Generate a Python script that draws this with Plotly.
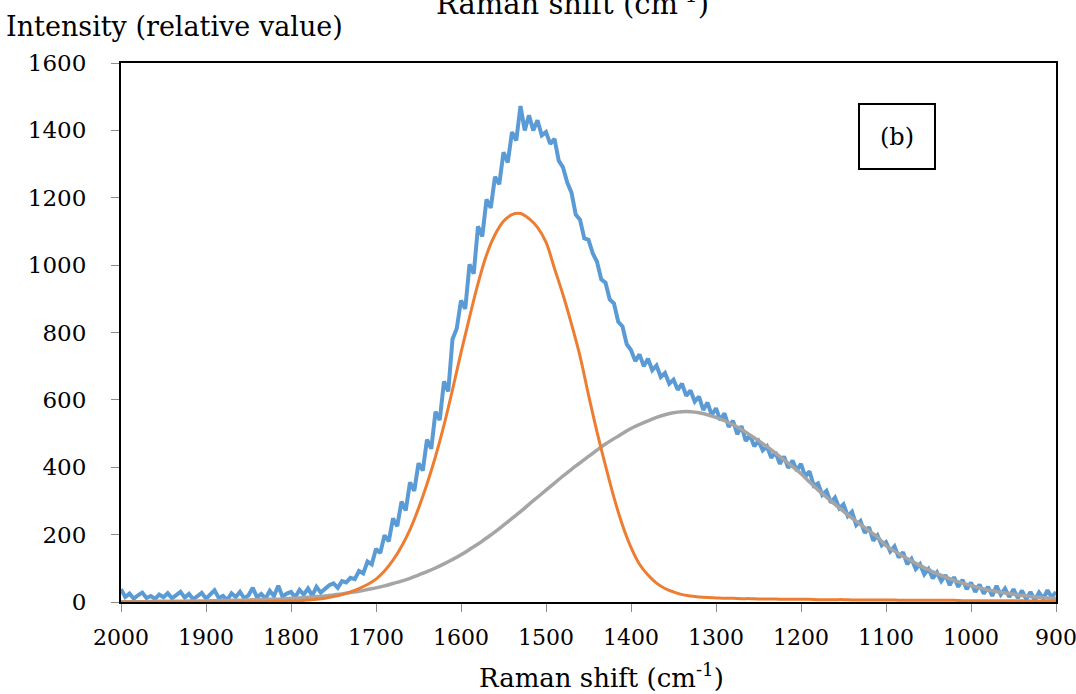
import plotly.graph_objects as go

# raman shift grids (cm-1), high to low
shift_raw = list(range(2000, 895, -5))
shift_fit = list(range(2000, 895, -10))

# measured spectrum, every 5 cm-1 from 2000 to 900
intensity_raw = [
    38, 15, 25, 10, 20, 28, 12, 18, 9, 22,
    14, 26, 11, 20, 30, 13, 24, 8, 19, 27,
    10, 22, 35, 12, 18, 6, 26, 15, 30, 11,
    20, 42, 14, 24, 10, 33, 18, 48, 16, 25,
    30, 14, 36, 22, 40, 19, 45, 28, 38, 50,
    55, 42, 62, 58, 72, 68, 92, 85, 120, 112,
    158, 145, 198, 180, 248, 225, 298, 272, 355, 330,
    412, 390, 482, 455, 565, 540, 655, 625, 780, 812,
    895, 870, 1002, 975, 1115, 1085, 1195, 1170, 1262, 1240,
    1335, 1305, 1395, 1370, 1472, 1400, 1445, 1400, 1430, 1385,
    1395, 1360, 1375, 1310, 1290, 1245, 1215, 1150, 1135, 1080,
    1075, 1035, 1010, 958, 948, 898, 886, 832, 818, 765,
    748, 715, 735, 700, 722, 688, 702, 668, 680, 648,
    660, 630, 648, 612, 628, 595, 610, 570, 592, 555,
    575, 540, 560, 520, 538, 498, 522, 478, 495, 462,
    478, 450, 462, 428, 445, 410, 432, 398, 420, 390,
    410, 372, 388, 345, 352, 318, 330, 295, 310, 278,
    290, 255, 268, 228, 240, 205, 222, 182, 198, 168,
    178, 150, 165, 132, 148, 112, 128, 98, 112, 82,
    98, 70, 88, 62, 80, 50, 74, 45, 66, 38,
    58, 30, 52, 25, 45, 18, 48, 22, 40, 15,
    38, 12, 34, 8, 30, 5, 28, 10, 35, 14,
    30,
]

# fitted band near 1530 cm-1, every 10 cm-1
band_g = [
    0, 0, 0, 0, 0, 0, 0, 0, 0, 0,
    0, 0, 0, 0, 0, 1, 1, 1, 2, 2,
    3, 4, 6, 8, 11, 16, 22, 30, 40, 52,
    68, 92, 124, 165, 215, 278, 350, 432, 525, 630,
    740, 845, 945, 1030, 1090, 1130, 1150, 1153, 1138, 1112,
    1068, 990, 912, 825, 730, 615, 505, 405, 310, 228,
    162, 112, 80, 56, 40, 30, 22, 18, 15, 13,
    12, 11, 11, 10, 10, 9, 9, 9, 8, 8,
    8, 8, 7, 7, 7, 7, 6, 6, 6, 6,
    6, 6, 5, 5, 5, 5, 5, 5, 5, 4,
    4, 4, 4, 4, 4, 4, 4, 3, 3, 3,
    3,
]

# fitted band near 1340 cm-1, every 10 cm-1
band_d = [
    1, 1, 1, 1, 2, 2, 2, 2, 3, 3,
    3, 4, 4, 5, 5, 6, 7, 8, 8, 9,
    11, 12, 14, 16, 18, 21, 24, 28, 32, 37,
    42, 48, 55, 62, 70, 80, 90, 101, 113, 126,
    140, 156, 172, 190, 208, 228, 248, 268, 290, 311,
    332, 353, 374, 394, 413, 432, 451, 469, 485, 500,
    515, 527, 538, 548, 556, 562, 565, 565, 562, 556,
    548, 538, 526, 512, 496, 479, 461, 442, 422, 402,
    381, 356, 333, 311, 290, 269, 249, 230, 211, 193,
    167, 151, 136, 122, 108, 96, 84, 74, 64, 56,
    49, 42, 36, 31, 27, 23, 19, 16, 14, 12,
    10,
]

serif = "DejaVu Serif"

fig = go.Figure()
fig.add_trace(go.Scatter(x=shift_raw, y=intensity_raw, mode="lines",
                         line=dict(color="#5B9BD5", width=4)))
fig.add_trace(go.Scatter(x=shift_fit, y=band_d, mode="lines",
                         line=dict(color="#A5A5A5", width=3.5, shape="spline")))
fig.add_trace(go.Scatter(x=shift_fit, y=band_g, mode="lines",
                         line=dict(color="#ED7D31", width=3, shape="spline")))

fig.update_xaxes(range=[2000, 900], dtick=100, showgrid=False, zeroline=False,
                 showline=True, mirror=True, linecolor="black", linewidth=2,
                 ticks="outside", ticklen=8, tickcolor="#8c8c8c",
                 ticklabelstandoff=7, ticklabeloverflow="allow", automargin=False,
                 tickfont=dict(family=serif, size=22, color="black"))
fig.update_yaxes(range=[0, 1600], dtick=200, showgrid=False, zeroline=False,
                 showline=True, mirror=True, linecolor="black", linewidth=2,
                 ticks="outside", ticklen=8, tickcolor="#8c8c8c",
                 ticklabelstandoff=20, automargin=False,
                 tickfont=dict(family=serif, size=23, color="black"))

# axis titles as annotations, the top one is cut off by the page edge
fig.add_annotation(text="Raman shift (cm<sup>-1</sup>)", xref="paper", yref="paper",
                   x=0.514, y=-0.138, xanchor="center", yanchor="middle", showarrow=False,
                   font=dict(family=serif, size=26, color="black"))
fig.add_annotation(text="Intensity (relative value)", xref="paper", yref="paper",
                   x=-0.125, y=1.067, xanchor="left", yanchor="middle", showarrow=False,
                   font=dict(family=serif, size=27, color="black"))
fig.add_annotation(text="Raman shift (cm<sup>-1</sup>)", xref="paper", yref="paper",
                   x=0.4834, y=1.114, xanchor="center", yanchor="middle", showarrow=False,
                   font=dict(family=serif, size=29, color="black"))
fig.add_annotation(text="(b)", xref="paper", yref="paper",
                   x=0.830, y=0.863, xanchor="center", yanchor="middle", showarrow=False,
                   width=70, height=59, borderpad=2, bordercolor="black", borderwidth=2,
                   font=dict(family=serif, size=24, color="black"))

fig.update_layout(width=1076, height=694, showlegend=False,
                  plot_bgcolor="white", paper_bgcolor="white",
                  margin=dict(l=121, r=20, t=63, b=92))

fig.write_html("out.html", config={"displayModeBar": False},
               post_script="document.body.style.margin='0';")
